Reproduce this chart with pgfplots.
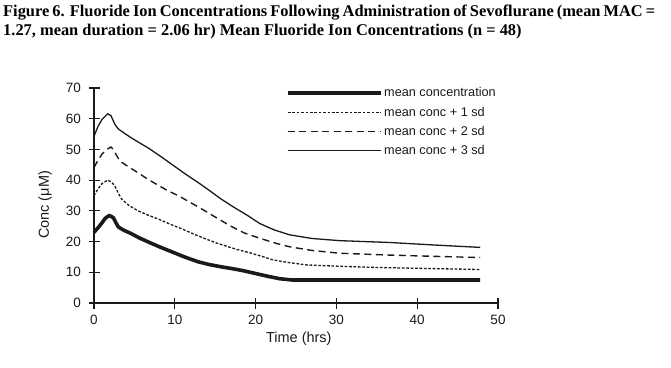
\documentclass[border=0pt]{standalone}
\usepackage{pgfplots}
\pgfplotsset{compat=1.18}
\usepackage{fontspec}
\setmainfont{Liberation Sans}
\newfontfamily\titlefont{Liberation Serif}
\definecolor{ink}{HTML}{1A1A1A}
\begin{document}
\begin{tikzpicture}[x=1pt,y=1pt]
\path[use as bounding box] (0,0) rectangle (671,367);
\node[anchor=base west,inner sep=0pt] at (3,350) {\titlefont\bfseries\fontsize{16.4}{19}\selectfont\makebox[652pt][s]{Figure 6. Fluoride Ion Concentrations Following Administration of Sevoflurane (mean MAC =}};
\node[anchor=base west,inner sep=0pt] at (3,331) {\titlefont\bfseries\fontsize{16.4}{19}\selectfont 1.27, mean duration = 2.06 hr) Mean Fluoride Ion Concentrations (n = 48)};
\begin{axis}[
  at={(94pt,64pt)}, anchor=south west,
  scale only axis, width=404pt, height=215pt,
  xmin=0, xmax=50, ymin=0, ymax=70,
  axis lines=left, axis line style={-, line width=1.2pt, color=ink},
  xtick={0,10,20,30,40,50}, ytick={0,10,20,30,40,50,60,70},
  tick align=center, major tick length=11pt,
  tick style={line width=1.2pt, color=ink},
  /pgf/number format/assume math mode=true,
  ticklabel style={font=\fontsize{13.5}{16}\selectfont, color=ink},
  yticklabel style={xshift=-4pt},
  xticklabel style={yshift=-3pt},
  xlabel={Time (hrs)}, ylabel={Conc (μM)},
  label style={font=\fontsize{14.5}{17}\selectfont, color=ink},
  xlabel style={at={(axis description cs:0.507,-0.167)}, anchor=center},
  ylabel style={at={(axis description cs:-0.121,0.456)}, anchor=center},
  legend image code/.code={\draw[#1] (0pt,0pt) -- (93pt,0pt);},
  legend style={draw=none, fill=none, at={(axis description cs:0.475,1.009)}, anchor=north west,
    font=\fontsize{12.7}{15}\selectfont, text=ink, row sep=5.5pt, inner sep=0pt,
    nodes={inner sep=1.5pt}},
  legend cell align=left,
  clip=false,
]
\addplot[ink, line width=3.6pt, line join=round] coordinates {
(0,23.0) (0.5,24.5) (0.9,25.8) (1.4,27.6) (1.9,28.5) (2.4,27.8) (2.7,26.2) (3.0,24.8) (3.6,23.8) (4.6,22.6) (5.6,21.2) (6.7,19.9) (8.0,18.4) (9.6,16.7) (11.2,15.0) (12.9,13.4) (14.3,12.5) (15.7,11.8) (17.3,11.1) (18.5,10.5) (20,9.6) (21.5,8.7) (23,7.9) (24.5,7.5) (30,7.5) (40,7.5) (47.8,7.5)};
\addlegendentry{mean concentration}
\addplot[ink, line width=1.3pt, dash pattern=on 2.7pt off 1.7pt] coordinates {
(0,34.9) (0.5,37.2) (1.0,38.9) (1.7,40.0) (2.2,39.3) (2.6,38.0) (3.0,35.8) (3.4,33.9) (4.3,31.8) (5.4,30.1) (6.6,28.7) (7.9,27.4) (9.3,25.8) (10.8,24.2) (12.2,22.6) (13.7,21.0) (15.1,19.6) (16.6,18.3) (18,17.2) (19.5,16.2) (21,15.0) (22.2,14.0) (24,13.2) (26.3,12.4) (30,12.0) (34.5,11.6) (40,11.3) (47.8,10.9)};
\addlegendentry{mean conc + 1 sd}
\addplot[ink, line width=1.4pt, dash pattern=on 7pt off 4.5pt] coordinates {
(0,44.1) (0.5,46.5) (1.0,48.5) (1.6,50.0) (2.1,50.8) (2.4,50.0) (2.7,48.5) (3.2,46.2) (4.3,44.3) (5.4,42.5) (6.6,40.4) (7.9,38.4) (9.1,36.6) (10.4,35.0) (11.6,33.2) (12.9,31.3) (14.3,29.1) (15.7,26.9) (17.1,24.8) (18.6,22.8) (20.5,21.1) (22.3,19.6) (24.2,18.3) (27,17.1) (30.4,16.2) (36.6,15.6) (42,15.2) (47.8,14.8)};
\addlegendentry{mean conc + 2 sd}
\addplot[ink, line width=1.3pt] coordinates {
(0,54.3) (0.5,57.5) (1.0,59.8) (1.7,61.6) (2.1,61.0) (2.6,58.1) (3.0,56.7) (3.8,55.2) (4.6,53.8) (5.6,52.2) (6.7,50.5) (8.1,48.0) (9.6,45.2) (11.2,42.2) (12.9,39.2) (14.3,36.6) (15.7,33.9) (17.3,31.2) (19,28.5) (20.5,25.9) (22.3,23.8) (24.2,22.2) (27,21.0) (30.4,20.3) (36.6,19.7) (42,18.9) (47.8,18.1)};
\addlegendentry{mean conc + 3 sd}
\end{axis}
\end{tikzpicture}
\end{document}
